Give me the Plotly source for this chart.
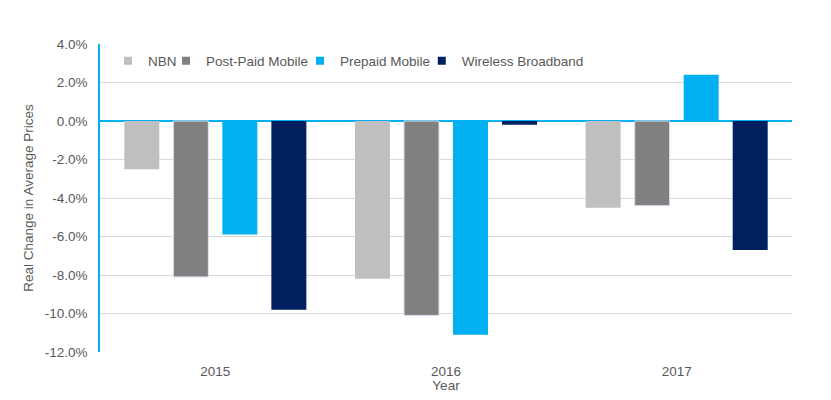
import plotly.graph_objects as go

years = ["2015", "2016", "2017"]
nbn = [-2.5, -8.2, -4.5]
postpaid = [-8.1, -10.1, -4.4]
prepaid = [-5.9, -11.1, 2.4]
wireless = [-9.8, -0.2, -6.7]
y_ticks = [4, 2, 0, -2, -4, -6, -8, -10, -12]
y_labels = ["4.0%", "2.0%", "0.0%", "-2.0%", "-4.0%", "-6.0%", "-8.0%", "-10.0%", "-12.0%"]

font_color = "#595959"
fig = go.Figure()
series = [
    ("NBN", nbn, "#BFBFBF", None),
    ("Post-Paid Mobile", postpaid, "#808080", "#DAE3F3"),
    ("Prepaid Mobile", prepaid, "#00B0F0", None),
    ("Wireless Broadband", wireless, "#002060", None),
]
legend_ids = ["legend", "legend2", "legend3", "legend4"]
legend_x = [0.0116, 0.0954, 0.289, 0.465]

for (name, vals, col, lc), lid in zip(series, legend_ids):
    fig.add_trace(go.Bar(
        x=years, y=vals, name=name, showlegend=False,
        marker=dict(color=col, line=dict(color=lc or col, width=1 if lc else 0)),
    ))
    fig.add_trace(go.Scatter(
        x=[None], y=[None], name=name, mode="markers", legend=lid,
        marker=dict(symbol="square", size=8, color=col),
        hoverinfo="skip",
    ))

legend_common = dict(orientation="h", y=0.995, xanchor="left", yanchor="top",
                     font=dict(size=13.5, color=font_color), bgcolor="rgba(0,0,0,0)",
                     itemwidth=30)
fig.update_layout(
    width=831, height=400,
    margin=dict(l=92, r=47, t=36, b=56),
    plot_bgcolor="white", paper_bgcolor="white",
    font=dict(family="Liberation Sans, Arial, sans-serif", size=13.5, color=font_color),
    barmode="group", bargap=0.15, bargroupgap=0.286,
    legend=dict(x=legend_x[0], **legend_common),
    legend2=dict(x=legend_x[1], **legend_common),
    legend3=dict(x=legend_x[2], **legend_common),
    legend4=dict(x=legend_x[3], **legend_common),
    showlegend=True,
)
fig.update_xaxes(
    title=dict(text="Year", standoff=2, font=dict(size=13.5)),
    showgrid=False, showline=False, ticks="", tickfont=dict(size=13.5),
    ticklabelstandoff=9,
)
fig.update_yaxes(
    title=dict(text="Real Change in Average Prices", font=dict(size=13.5), standoff=8),
    range=[-12, 4], tickvals=y_ticks, ticktext=y_labels,
    showgrid=True, gridcolor="#D9D9D9", gridwidth=1,
    zeroline=True, zerolinecolor="#00B0F0", zerolinewidth=1.5,
    showline=True, linecolor="#00B0F0", linewidth=1.5,
    ticks="", ticklabelstandoff=8, tickfont=dict(size=13.5),
)
fig.write_html("out.html")
